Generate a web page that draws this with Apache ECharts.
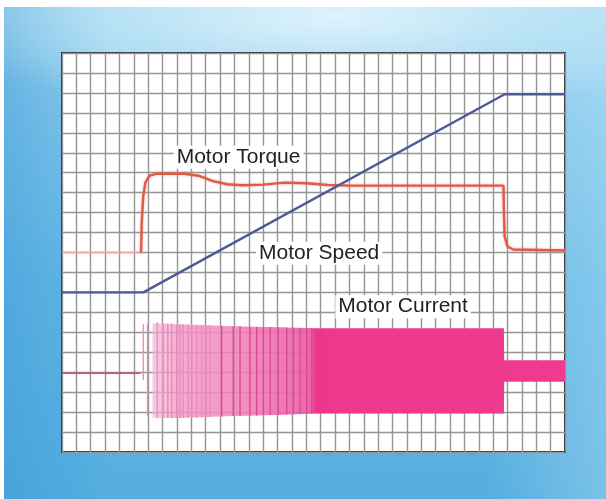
<!DOCTYPE html>
<html>
<head>
<meta charset="utf-8">
<script src="https://cdn.jsdelivr.net/npm/echarts@6.0.0/dist/echarts.min.js"></script>
<style>
  html, body { margin: 0; padding: 0; background: #ffffff; }
  #bg {
    position: absolute; left: 4px; top: 7px; right: 0; bottom: 0;
    background:
      radial-gradient(ellipse 70% 20% at 55% 2%, rgba(225,244,252,0.95) 0%, rgba(200,234,249,0.6) 50%, rgba(180,225,245,0) 100%),
      linear-gradient(90deg, rgba(55,150,215,0.45) 0%, rgba(70,160,220,0) 18%, rgba(0,0,0,0) 80%, rgba(190,230,248,0.35) 100%),
      linear-gradient(180deg, #a6d8f0 0%, #86c9ec 22%, #66b9e5 55%, #55aedf 100%);
  }
  #chart { position: absolute; left: 0; top: 0; width: 606px; height: 499px; }
</style>
</head>
<body>
<div id="bg"></div>
<div id="chart"></div>
<script>
// ---- data (grid units: 35 columns x 20 rows) ----
const speedData = [[0, 8.0], [5.66, 8.0], [30.8, 17.93], [35, 17.93]];

const torqueIdle = [[0, 10.0], [5.5, 10.0]];
const torqueData = [
  [5.5, 10.0], [5.55, 11.5], [5.65, 12.8], [5.8, 13.5], [6.1, 13.85], [6.6, 13.95],
  [8.5, 13.95], [9.5, 13.85], [10.5, 13.58], [11.5, 13.42], [12.5, 13.37], [14.0, 13.4],
  [15.5, 13.5], [17.0, 13.47], [18.5, 13.38], [20.0, 13.35], [25.0, 13.35], [30.72, 13.35],
  [30.75, 12.0], [30.8, 10.8], [31.0, 10.3], [31.4, 10.15], [35, 10.1]
];

const currentIdle = [[0, 3.95], [5.45, 3.95]];
const bandX      = [6.3, 8.0, 10.0, 12.0, 15.0, 17.7, 30.75, 30.77, 35];
const bandTop    = [6.45, 6.4, 6.35, 6.3, 6.25, 6.2, 6.2, 4.6, 4.6];
const bandBottom = [1.72, 1.7, 1.75, 1.8, 1.86, 1.93, 1.93, 3.52, 3.52];

const currentStrokes = [
  [5.66, 6.4, 3.6], [5.95, 6.45, 1.8], [6.63, 6.5, 1.7], [7.05, 6.45, 1.7], [7.36, 6.45, 1.7],
  [7.63, 6.45, 1.7], [7.98, 6.4, 1.7], [8.21, 6.4, 1.7], [8.44, 6.4, 1.7], [8.79, 6.4, 1.72],
  [9.03, 6.4, 1.72], [9.37, 6.38, 1.72], [9.72, 6.38, 1.74], [10.02, 6.36, 1.75], [10.3, 6.35, 1.75],
  [11.11, 6.32, 1.78], [11.92, 6.3, 1.8], [12.39, 6.3, 1.8], [13.08, 6.28, 1.82], [13.55, 6.27, 1.83],
  [14.01, 6.26, 1.84], [14.48, 6.26, 1.85], [15.05, 6.25, 1.86], [15.64, 6.24, 1.88], [16.1, 6.23, 1.9],
  [16.57, 6.22, 1.9], [17.03, 6.21, 1.92], [17.38, 6.2, 1.93]
];

const labels = ['Motor Torque', 'Motor Speed', 'Motor Current'];

// ---- chart ----
const chart = echarts.init(document.getElementById('chart'), null, { renderer: 'canvas' });

const gridLine = { show: true, lineStyle: { color: '#959595', width: 1.4 } };

function bandRender(params, api) {
  const pts = [];
  for (let i = 0; i < bandX.length; i++) pts.push(api.coord([bandX[i], bandTop[i]]));
  for (let i = bandX.length - 1; i >= 0; i--) pts.push(api.coord([bandX[i], bandBottom[i]]));
  return {
    type: 'polygon',
    shape: { points: pts },
    style: {
      fill: new echarts.graphic.LinearGradient(0, 0, 1, 0, [
        { offset: 0.0, color: 'rgba(246,178,212,0.7)' },
        { offset: 0.07, color: 'rgba(243,150,196,0.8)' },
        { offset: 0.24, color: 'rgba(240,122,181,0.88)' },
        { offset: 0.38, color: 'rgba(236,96,166,0.95)' },
        { offset: 0.397, color: '#ea358a' },
        { offset: 0.45, color: '#ee3a8d' },
        { offset: 1.0, color: '#ef3b8d' }
      ])
    }
  };
}

function strokeRender(params, api) {
  const x = api.value(0);
  const p1 = api.coord([x, api.value(1)]);
  const p2 = api.coord([x, api.value(2)]);
  return {
    type: 'line',
    shape: { x1: p1[0], y1: p1[1], x2: p2[0], y2: p2[1] },
    style: { stroke: x < 10.5 ? '#ea8cbd' : '#d94c92', lineWidth: 1.4 }
  };
}

const option = {
  animation: false,
  backgroundColor: 'transparent',
  grid: {
    left: 62, top: 53, right: 41, bottom: 47,
    show: true, backgroundColor: '#ffffff', borderColor: '#2a2a2a', borderWidth: 2
  },
  xAxis: {
    type: 'value', min: 0, max: 35, interval: 1,
    axisLabel: { show: false }, axisTick: { show: false }, axisLine: { show: false },
    splitLine: gridLine
  },
  yAxis: {
    type: 'value', min: 0, max: 20, interval: 1,
    axisLabel: { show: false }, axisTick: { show: false }, axisLine: { show: false },
    splitLine: gridLine
  },
  series: [
    { type: 'custom', name: 'currentBand', renderItem: bandRender, data: [[0, 0]], z: 2, silent: true },
    { type: 'custom', name: 'currentStrokes', renderItem: strokeRender, data: currentStrokes, z: 3, silent: true,
      encode: { x: 0, y: [1, 2] } },
    { type: 'line', name: 'currentIdle', data: currentIdle, showSymbol: false, z: 3,
      lineStyle: { color: '#d6497f', width: 1.6 } },
    { type: 'line', name: 'torqueIdle', data: torqueIdle, showSymbol: false, z: 4,
      lineStyle: { color: '#f3a5a8', width: 1.6 } },
    { type: 'line', name: 'Motor Torque', data: torqueData, showSymbol: false, z: 4,
      lineStyle: { color: '#e05a46', width: 2.4, shadowColor: 'rgba(240,120,120,0.6)', shadowBlur: 3 } },
    { type: 'line', name: 'Motor Speed', data: speedData, showSymbol: false, z: 5,
      lineStyle: { color: '#4c5b98', width: 2.4 } }
  ],
  graphic: [
    { type: 'text', x: 173.7, y: 157.2, z: 10,
      style: { text: labels[0], font: '21px "Liberation Sans", Arial, sans-serif', fill: '#222',
               verticalAlign: 'middle', backgroundColor: '#ffffff', padding: [1, 3, 1, 3] } },
    { type: 'text', x: 256, y: 253.2, z: 10,
      style: { text: labels[1], font: '21px "Liberation Sans", Arial, sans-serif', fill: '#222',
               verticalAlign: 'middle', backgroundColor: '#ffffff', padding: [1, 3, 1, 3] } },
    { type: 'text', x: 335.3, y: 306.7, z: 10,
      style: { text: labels[2], font: '21px "Liberation Sans", Arial, sans-serif', fill: '#222',
               verticalAlign: 'middle', backgroundColor: '#ffffff', padding: [1, 3, 1, 3] } }
  ]
};
chart.setOption(option);
</script>
</body>
</html>
